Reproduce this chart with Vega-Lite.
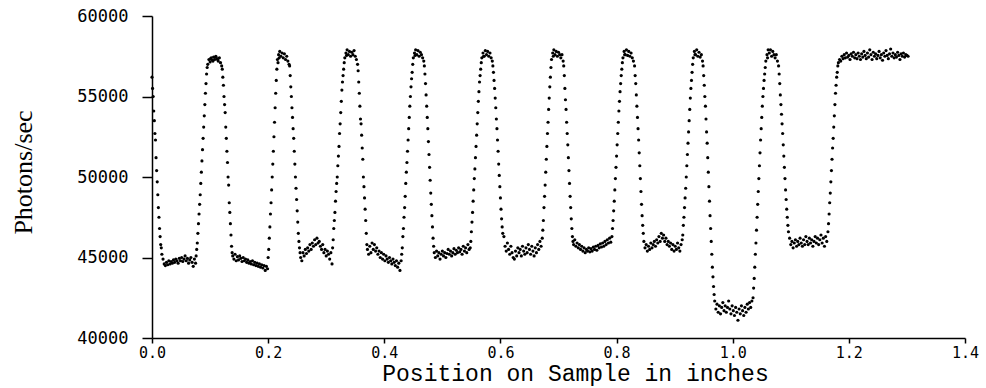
{
"$schema":"https://vega.github.io/schema/vega-lite/v6.json",
"autosize":"none","width":813,"height":322,
"padding":{"left":152,"top":16,"right":21,"bottom":50},
"background":"white",
"config":{"view":{"stroke":null}},
"data":{"values":[
{"x":0.000,"y":56200},{"x":0.001,"y":55500},{"x":0.002,"y":55000},{"x":0.003,"y":54100},{"x":0.004,"y":53500},{"x":0.005,"y":52700},{"x":0.006,"y":52300},{"x":0.007,"y":51200},{"x":0.008,"y":50400},{"x":0.009,"y":49700},{"x":0.010,"y":48900},{"x":0.011,"y":48100},{"x":0.012,"y":47500},{"x":0.013,"y":46800},{"x":0.014,"y":46300},{"x":0.015,"y":45800},{"x":0.016,"y":45600},{"x":0.017,"y":45200},
{"x":0.019,"y":44900},{"x":0.021,"y":44600},{"x":0.023,"y":44500},{"x":0.025,"y":44700},{"x":0.027,"y":44550},{"x":0.029,"y":44800},{"x":0.031,"y":44600},{"x":0.033,"y":44750},{"x":0.035,"y":44650},{"x":0.037,"y":44850},{"x":0.039,"y":44700},{"x":0.041,"y":44900},{"x":0.043,"y":44800},{"x":0.045,"y":44650},{"x":0.047,"y":44950},{"x":0.049,"y":44800},{"x":0.051,"y":45000},{"x":0.053,"y":44750},{"x":0.055,"y":44900},{"x":0.057,"y":45100},{"x":0.059,"y":44800},{"x":0.061,"y":44950},{"x":0.063,"y":44650},{"x":0.065,"y":44850},{"x":0.067,"y":45000},{"x":0.069,"y":44700},{"x":0.071,"y":44450},{"x":0.073,"y":44900},{"x":0.075,"y":44650},
{"x":0.076,"y":45100},{"x":0.077,"y":45500},{"x":0.078,"y":45900},{"x":0.079,"y":46500},{"x":0.080,"y":47100},{"x":0.081,"y":47700},{"x":0.082,"y":48300},{"x":0.083,"y":48900},{"x":0.084,"y":49600},{"x":0.085,"y":50300},{"x":0.086,"y":51000},{"x":0.087,"y":51700},{"x":0.088,"y":52400},{"x":0.089,"y":53100},{"x":0.090,"y":53800},{"x":0.091,"y":54500},{"x":0.092,"y":55200},{"x":0.093,"y":55800},{"x":0.094,"y":56400},{"x":0.095,"y":56800},
{"x":0.096,"y":57000},{"x":0.098,"y":57300},{"x":0.100,"y":57150},{"x":0.101,"y":57350},{"x":0.102,"y":57400},{"x":0.104,"y":57250},{"x":0.105,"y":57200},{"x":0.106,"y":57450},{"x":0.108,"y":57300},{"x":0.109,"y":57450},{"x":0.110,"y":57500},{"x":0.112,"y":57350},{"x":0.113,"y":57300},{"x":0.114,"y":57200},{"x":0.116,"y":57400},{"x":0.118,"y":57100},{"x":0.120,"y":56900},
{"x":0.121,"y":56700},{"x":0.122,"y":56200},{"x":0.123,"y":55700},{"x":0.124,"y":55000},{"x":0.125,"y":54500},{"x":0.126,"y":54000},{"x":0.127,"y":53100},{"x":0.128,"y":52400},{"x":0.129,"y":51600},{"x":0.130,"y":50900},{"x":0.131,"y":50000},{"x":0.132,"y":49500},{"x":0.133,"y":48400},{"x":0.134,"y":47800},{"x":0.135,"y":47100},{"x":0.136,"y":46400},{"x":0.137,"y":45700},{"x":0.138,"y":45300},
{"x":0.139,"y":45100},{"x":0.141,"y":44900},{"x":0.143,"y":45200},{"x":0.145,"y":44800},{"x":0.147,"y":45050},{"x":0.149,"y":44850},{"x":0.151,"y":45100},{"x":0.153,"y":44950},{"x":0.155,"y":44750},{"x":0.157,"y":45000},{"x":0.159,"y":44800},{"x":0.161,"y":44900},{"x":0.163,"y":44700},{"x":0.165,"y":44850},{"x":0.167,"y":44650},{"x":0.169,"y":44750},{"x":0.171,"y":44600},{"x":0.173,"y":44800},{"x":0.175,"y":44550},{"x":0.177,"y":44700},{"x":0.179,"y":44500},{"x":0.181,"y":44650},{"x":0.183,"y":44450},{"x":0.185,"y":44600},{"x":0.187,"y":44400},{"x":0.189,"y":44550},{"x":0.191,"y":44350},{"x":0.193,"y":44500},{"x":0.195,"y":44200},{"x":0.197,"y":44450},{"x":0.199,"y":44300},
{"x":0.200,"y":45000},{"x":0.201,"y":45500},{"x":0.202,"y":46200},{"x":0.203,"y":46900},{"x":0.204,"y":47700},{"x":0.205,"y":48400},{"x":0.206,"y":49200},{"x":0.207,"y":50000},{"x":0.208,"y":50800},{"x":0.209,"y":51600},{"x":0.210,"y":52500},{"x":0.211,"y":53400},{"x":0.212,"y":54300},{"x":0.213,"y":55200},{"x":0.214,"y":56000},{"x":0.215,"y":56700},
{"x":0.216,"y":57300},{"x":0.217,"y":57100},{"x":0.218,"y":57600},{"x":0.219,"y":57400},{"x":0.220,"y":57800},{"x":0.222,"y":57500},{"x":0.224,"y":57700},{"x":0.226,"y":57400},{"x":0.228,"y":57650},{"x":0.230,"y":57300},{"x":0.232,"y":57500},{"x":0.234,"y":57200},{"x":0.236,"y":57000},
{"x":0.237,"y":56900},{"x":0.238,"y":56300},{"x":0.239,"y":55600},{"x":0.240,"y":55000},{"x":0.241,"y":54300},{"x":0.242,"y":53700},{"x":0.243,"y":53000},{"x":0.244,"y":52400},{"x":0.245,"y":51600},{"x":0.246,"y":50800},{"x":0.247,"y":50000},{"x":0.248,"y":49300},{"x":0.249,"y":48600},{"x":0.250,"y":47900},{"x":0.251,"y":47200},{"x":0.252,"y":46500},{"x":0.253,"y":46000},{"x":0.254,"y":45600},{"x":0.255,"y":45300},
{"x":0.256,"y":45000},{"x":0.258,"y":44800},{"x":0.260,"y":45300},{"x":0.262,"y":45100},{"x":0.264,"y":45500},{"x":0.266,"y":45250},{"x":0.268,"y":45600},{"x":0.270,"y":45400},{"x":0.272,"y":45800},{"x":0.274,"y":45500},{"x":0.276,"y":45900},{"x":0.278,"y":45700},{"x":0.280,"y":46100},{"x":0.282,"y":45800},{"x":0.284,"y":46200},{"x":0.286,"y":45900},{"x":0.288,"y":46000},{"x":0.290,"y":45700},{"x":0.292,"y":45500},{"x":0.294,"y":45800},{"x":0.296,"y":45300},{"x":0.298,"y":45500},{"x":0.300,"y":45100},{"x":0.302,"y":45400},{"x":0.304,"y":45200},{"x":0.306,"y":44900},{"x":0.308,"y":45300},{"x":0.310,"y":44600},
{"x":0.311,"y":45600},{"x":0.312,"y":46100},{"x":0.313,"y":46800},{"x":0.314,"y":47300},{"x":0.315,"y":47800},{"x":0.316,"y":48500},{"x":0.317,"y":49100},{"x":0.318,"y":49600},{"x":0.319,"y":50000},{"x":0.320,"y":50700},{"x":0.321,"y":51300},{"x":0.322,"y":51900},{"x":0.323,"y":52700},{"x":0.324,"y":53300},{"x":0.325,"y":54000},{"x":0.326,"y":54700},{"x":0.327,"y":55400},{"x":0.328,"y":55900},{"x":0.329,"y":56300},{"x":0.330,"y":56700},{"x":0.331,"y":57100},
{"x":0.332,"y":57400},{"x":0.334,"y":57700},{"x":0.335,"y":57550},{"x":0.336,"y":57900},{"x":0.338,"y":57600},{"x":0.340,"y":57800},{"x":0.342,"y":57500},{"x":0.344,"y":57750},{"x":0.346,"y":57600},{"x":0.348,"y":57850},{"x":0.350,"y":57500},{"x":0.352,"y":57300},{"x":0.354,"y":57000},
{"x":0.355,"y":56600},{"x":0.356,"y":55900},{"x":0.357,"y":55200},{"x":0.358,"y":54400},{"x":0.359,"y":53600},{"x":0.360,"y":53300},{"x":0.361,"y":52600},{"x":0.362,"y":51800},{"x":0.363,"y":51100},{"x":0.364,"y":50000},{"x":0.365,"y":49400},{"x":0.366,"y":48700},{"x":0.367,"y":48000},{"x":0.368,"y":47300},{"x":0.369,"y":46500},{"x":0.370,"y":45800},
{"x":0.371,"y":45500},{"x":0.373,"y":45200},{"x":0.375,"y":45700},{"x":0.377,"y":45300},{"x":0.379,"y":45900},{"x":0.381,"y":45500},{"x":0.383,"y":45800},{"x":0.385,"y":45400},{"x":0.387,"y":45600},{"x":0.389,"y":45200},{"x":0.391,"y":45400},{"x":0.393,"y":45000},{"x":0.395,"y":45300},{"x":0.397,"y":44900},{"x":0.399,"y":45200},{"x":0.401,"y":44800},{"x":0.403,"y":45100},{"x":0.405,"y":44900},{"x":0.407,"y":44700},{"x":0.409,"y":45000},{"x":0.411,"y":44800},{"x":0.413,"y":44600},{"x":0.415,"y":44900},{"x":0.417,"y":44700},{"x":0.419,"y":44500},{"x":0.421,"y":44800},{"x":0.423,"y":44400},{"x":0.425,"y":44650},{"x":0.427,"y":44200},{"x":0.429,"y":44800},
{"x":0.430,"y":45200},{"x":0.431,"y":45600},{"x":0.432,"y":46300},{"x":0.433,"y":46800},{"x":0.434,"y":47500},{"x":0.435,"y":48100},{"x":0.436,"y":48800},{"x":0.437,"y":49600},{"x":0.438,"y":50300},{"x":0.439,"y":50900},{"x":0.440,"y":51600},{"x":0.441,"y":52300},{"x":0.442,"y":53000},{"x":0.443,"y":53700},{"x":0.444,"y":54400},{"x":0.445,"y":55000},{"x":0.446,"y":55600},{"x":0.447,"y":56100},{"x":0.448,"y":56500},{"x":0.449,"y":57000},
{"x":0.450,"y":57400},{"x":0.452,"y":57700},{"x":0.453,"y":57550},{"x":0.454,"y":57900},{"x":0.456,"y":57600},{"x":0.458,"y":57850},{"x":0.460,"y":57500},{"x":0.462,"y":57750},{"x":0.464,"y":57600},{"x":0.466,"y":57400},{"x":0.468,"y":57200},
{"x":0.469,"y":56900},{"x":0.470,"y":56400},{"x":0.471,"y":55800},{"x":0.472,"y":55100},{"x":0.473,"y":54400},{"x":0.474,"y":53700},{"x":0.475,"y":53000},{"x":0.476,"y":52200},{"x":0.477,"y":51400},{"x":0.478,"y":50600},{"x":0.479,"y":49800},{"x":0.480,"y":49000},{"x":0.481,"y":48300},{"x":0.482,"y":47600},{"x":0.483,"y":46900},{"x":0.484,"y":46200},{"x":0.485,"y":45700},
{"x":0.486,"y":45300},{"x":0.488,"y":45000},{"x":0.490,"y":45400},{"x":0.492,"y":45100},{"x":0.494,"y":45300},{"x":0.496,"y":44900},{"x":0.498,"y":45200},{"x":0.500,"y":45400},{"x":0.502,"y":45100},{"x":0.504,"y":45300},{"x":0.506,"y":45000},{"x":0.508,"y":45250},{"x":0.510,"y":45500},{"x":0.512,"y":45200},{"x":0.514,"y":45400},{"x":0.516,"y":45100},{"x":0.518,"y":45300},{"x":0.520,"y":45550},{"x":0.522,"y":45200},{"x":0.524,"y":45450},{"x":0.526,"y":45300},{"x":0.528,"y":45600},{"x":0.530,"y":45350},{"x":0.532,"y":45500},{"x":0.534,"y":45200},{"x":0.536,"y":45700},{"x":0.538,"y":45400},{"x":0.540,"y":45600},{"x":0.542,"y":45300},{"x":0.544,"y":45800},{"x":0.546,"y":45500},
{"x":0.548,"y":45600},{"x":0.549,"y":46000},{"x":0.550,"y":46600},{"x":0.551,"y":47200},{"x":0.552,"y":47800},{"x":0.553,"y":48500},{"x":0.554,"y":49200},{"x":0.555,"y":49900},{"x":0.556,"y":50500},{"x":0.557,"y":51200},{"x":0.558,"y":51900},{"x":0.559,"y":52600},{"x":0.560,"y":53300},{"x":0.561,"y":54000},{"x":0.562,"y":54700},{"x":0.563,"y":55300},{"x":0.564,"y":55900},{"x":0.565,"y":56300},{"x":0.566,"y":56700},{"x":0.567,"y":57100},
{"x":0.568,"y":57400},{"x":0.570,"y":57700},{"x":0.571,"y":57500},{"x":0.572,"y":57500},{"x":0.574,"y":57850},{"x":0.576,"y":57600},{"x":0.578,"y":57800},{"x":0.580,"y":57500},{"x":0.582,"y":57700},{"x":0.584,"y":57400},{"x":0.586,"y":57200},
{"x":0.587,"y":56900},{"x":0.588,"y":56500},{"x":0.589,"y":56000},{"x":0.590,"y":55500},{"x":0.591,"y":54900},{"x":0.592,"y":54300},{"x":0.593,"y":53600},{"x":0.594,"y":53000},{"x":0.595,"y":52300},{"x":0.596,"y":51600},{"x":0.597,"y":50800},{"x":0.598,"y":50100},{"x":0.599,"y":49400},{"x":0.600,"y":48700},{"x":0.601,"y":48000},{"x":0.602,"y":47400},{"x":0.603,"y":46900},{"x":0.604,"y":46500},{"x":0.606,"y":46300},
{"x":0.608,"y":45700},{"x":0.610,"y":45400},{"x":0.612,"y":45900},{"x":0.614,"y":45500},{"x":0.616,"y":45200},{"x":0.618,"y":45700},{"x":0.620,"y":45300},{"x":0.622,"y":45000},{"x":0.624,"y":44900},{"x":0.626,"y":45400},{"x":0.628,"y":45100},{"x":0.630,"y":45600},{"x":0.632,"y":45300},{"x":0.634,"y":45500},{"x":0.636,"y":45100},{"x":0.638,"y":45700},{"x":0.640,"y":45400},{"x":0.642,"y":45200},{"x":0.644,"y":45600},{"x":0.646,"y":45300},{"x":0.648,"y":45800},{"x":0.650,"y":45500},{"x":0.652,"y":45200},{"x":0.654,"y":45700},{"x":0.656,"y":45400},{"x":0.658,"y":45100},{"x":0.660,"y":45600},{"x":0.662,"y":45300},{"x":0.664,"y":45800},{"x":0.666,"y":45500},{"x":0.668,"y":46000},{"x":0.670,"y":45700},
{"x":0.672,"y":46200},{"x":0.673,"y":46700},{"x":0.674,"y":47300},{"x":0.675,"y":48100},{"x":0.676,"y":48800},{"x":0.677,"y":49500},{"x":0.678,"y":50300},{"x":0.679,"y":51100},{"x":0.680,"y":51900},{"x":0.681,"y":52700},{"x":0.682,"y":53400},{"x":0.683,"y":54200},{"x":0.684,"y":54900},{"x":0.685,"y":55600},{"x":0.686,"y":56200},{"x":0.687,"y":56800},
{"x":0.688,"y":57300},{"x":0.690,"y":57700},{"x":0.691,"y":57500},{"x":0.692,"y":57900},{"x":0.694,"y":57600},{"x":0.696,"y":57800},{"x":0.698,"y":57500},{"x":0.700,"y":57750},{"x":0.702,"y":57600},{"x":0.704,"y":57400},{"x":0.706,"y":57600},{"x":0.708,"y":57200},
{"x":0.709,"y":56900},{"x":0.710,"y":56300},{"x":0.711,"y":55500},{"x":0.712,"y":54800},{"x":0.713,"y":54200},{"x":0.714,"y":53400},{"x":0.715,"y":52700},{"x":0.716,"y":52000},{"x":0.717,"y":51200},{"x":0.718,"y":50400},{"x":0.719,"y":49600},{"x":0.720,"y":48800},{"x":0.721,"y":48100},{"x":0.722,"y":47400},{"x":0.723,"y":46800},{"x":0.724,"y":46300},{"x":0.725,"y":46000},
{"x":0.726,"y":45800},{"x":0.728,"y":46100},{"x":0.730,"y":45700},{"x":0.732,"y":45900},{"x":0.734,"y":45600},{"x":0.736,"y":45800},{"x":0.738,"y":45500},{"x":0.740,"y":45700},{"x":0.742,"y":45400},{"x":0.744,"y":45600},{"x":0.746,"y":45300},{"x":0.748,"y":45500},{"x":0.750,"y":45400},{"x":0.752,"y":45600},{"x":0.754,"y":45350},{"x":0.756,"y":45550},{"x":0.758,"y":45400},{"x":0.760,"y":45650},{"x":0.762,"y":45500},{"x":0.764,"y":45700},{"x":0.766,"y":45450},{"x":0.768,"y":45750},{"x":0.770,"y":45600},{"x":0.772,"y":45850},{"x":0.774,"y":45650},{"x":0.776,"y":45900},{"x":0.778,"y":45700},{"x":0.780,"y":46000},{"x":0.782,"y":45800},{"x":0.784,"y":46100},{"x":0.786,"y":45900},{"x":0.788,"y":46200},{"x":0.790,"y":45950},
{"x":0.792,"y":46300},{"x":0.793,"y":46800},{"x":0.794,"y":47300},{"x":0.795,"y":47900},{"x":0.796,"y":48500},{"x":0.797,"y":49200},{"x":0.798,"y":49900},{"x":0.799,"y":50600},{"x":0.800,"y":51300},{"x":0.801,"y":52000},{"x":0.802,"y":52700},{"x":0.803,"y":53400},{"x":0.804,"y":54100},{"x":0.805,"y":54700},{"x":0.806,"y":55300},{"x":0.807,"y":55800},{"x":0.808,"y":56300},{"x":0.809,"y":56700},{"x":0.810,"y":57100},
{"x":0.811,"y":57400},{"x":0.813,"y":57800},{"x":0.814,"y":57600},{"x":0.815,"y":57600},{"x":0.817,"y":57900},{"x":0.819,"y":57550},{"x":0.821,"y":57800},{"x":0.823,"y":57500},{"x":0.825,"y":57700},{"x":0.827,"y":57400},{"x":0.829,"y":57200},
{"x":0.831,"y":56900},{"x":0.832,"y":56300},{"x":0.833,"y":55800},{"x":0.834,"y":55100},{"x":0.835,"y":54400},{"x":0.836,"y":53700},{"x":0.837,"y":53000},{"x":0.838,"y":52300},{"x":0.839,"y":51500},{"x":0.840,"y":50700},{"x":0.841,"y":49900},{"x":0.842,"y":49100},{"x":0.843,"y":48300},{"x":0.844,"y":47600},{"x":0.845,"y":47000},{"x":0.846,"y":46500},
{"x":0.847,"y":46000},{"x":0.849,"y":45600},{"x":0.851,"y":45800},{"x":0.853,"y":45400},{"x":0.855,"y":45700},{"x":0.857,"y":45500},{"x":0.859,"y":45900},{"x":0.861,"y":45600},{"x":0.863,"y":45800},{"x":0.865,"y":46000},{"x":0.867,"y":45700},{"x":0.869,"y":46100},{"x":0.871,"y":45900},{"x":0.873,"y":46300},{"x":0.875,"y":46000},{"x":0.877,"y":46500},{"x":0.879,"y":46200},{"x":0.881,"y":46400},{"x":0.883,"y":46000},{"x":0.885,"y":46200},{"x":0.887,"y":45800},{"x":0.889,"y":46000},{"x":0.891,"y":45700},{"x":0.893,"y":45900},{"x":0.895,"y":45500},{"x":0.897,"y":45800},{"x":0.899,"y":45400},{"x":0.901,"y":45700},{"x":0.903,"y":45500},{"x":0.905,"y":45900},{"x":0.907,"y":45600},{"x":0.909,"y":45400},{"x":0.911,"y":45800},{"x":0.913,"y":46100},
{"x":0.914,"y":46400},{"x":0.915,"y":47000},{"x":0.916,"y":47500},{"x":0.917,"y":48100},{"x":0.918,"y":48700},{"x":0.919,"y":49300},{"x":0.920,"y":50000},{"x":0.921,"y":50700},{"x":0.922,"y":51400},{"x":0.923,"y":52100},{"x":0.924,"y":52800},{"x":0.925,"y":53500},{"x":0.926,"y":54200},{"x":0.927,"y":54900},{"x":0.928,"y":55500},{"x":0.929,"y":56000},{"x":0.930,"y":56500},{"x":0.931,"y":57000},
{"x":0.932,"y":57400},{"x":0.934,"y":57800},{"x":0.935,"y":57600},{"x":0.936,"y":57600},{"x":0.938,"y":57900},{"x":0.940,"y":57500},{"x":0.942,"y":57750},{"x":0.944,"y":57450},{"x":0.946,"y":57600},{"x":0.948,"y":57200},
{"x":0.949,"y":56900},{"x":0.950,"y":56300},{"x":0.951,"y":55700},{"x":0.952,"y":55000},{"x":0.953,"y":54400},{"x":0.954,"y":53600},{"x":0.955,"y":52800},{"x":0.956,"y":52100},{"x":0.957,"y":51200},{"x":0.958,"y":50300},{"x":0.959,"y":49400},{"x":0.960,"y":48500},{"x":0.961,"y":47600},{"x":0.962,"y":46800},{"x":0.963,"y":46000},{"x":0.964,"y":45200},{"x":0.965,"y":44400},{"x":0.966,"y":43800},{"x":0.967,"y":43200},{"x":0.968,"y":42700},
{"x":0.969,"y":42300},{"x":0.971,"y":41800},{"x":0.973,"y":42100},{"x":0.975,"y":41600},{"x":0.977,"y":42000},{"x":0.979,"y":41500},{"x":0.981,"y":41900},{"x":0.983,"y":42200},{"x":0.985,"y":41700},{"x":0.987,"y":42000},{"x":0.989,"y":41600},{"x":0.991,"y":41900},{"x":0.993,"y":42300},{"x":0.995,"y":41800},{"x":0.997,"y":41500},{"x":0.999,"y":42000},{"x":1.001,"y":41700},{"x":1.003,"y":41400},{"x":1.005,"y":41900},{"x":1.007,"y":41600},{"x":1.009,"y":41100},{"x":1.011,"y":41800},{"x":1.013,"y":41500},{"x":1.015,"y":42000},{"x":1.017,"y":41700},{"x":1.019,"y":41400},{"x":1.021,"y":41900},{"x":1.023,"y":41600},{"x":1.025,"y":42100},{"x":1.027,"y":41800},{"x":1.029,"y":42200},{"x":1.031,"y":41900},{"x":1.033,"y":42300},
{"x":1.035,"y":42500},{"x":1.036,"y":43100},{"x":1.037,"y":43700},{"x":1.038,"y":44400},{"x":1.039,"y":45200},{"x":1.040,"y":45900},{"x":1.041,"y":46700},{"x":1.042,"y":47500},{"x":1.043,"y":48300},{"x":1.044,"y":49100},{"x":1.045,"y":49900},{"x":1.046,"y":50700},{"x":1.047,"y":51500},{"x":1.048,"y":52300},{"x":1.049,"y":53000},{"x":1.050,"y":53700},{"x":1.051,"y":54400},{"x":1.052,"y":55000},{"x":1.053,"y":55500},{"x":1.054,"y":56000},{"x":1.055,"y":56400},{"x":1.056,"y":56800},
{"x":1.057,"y":57200},{"x":1.059,"y":57600},{"x":1.060,"y":57400},{"x":1.061,"y":57900},{"x":1.063,"y":57700},{"x":1.065,"y":57900},{"x":1.067,"y":57500},{"x":1.069,"y":57800},{"x":1.071,"y":57600},{"x":1.073,"y":57400},{"x":1.075,"y":57600},{"x":1.077,"y":57200},
{"x":1.079,"y":56900},{"x":1.080,"y":56400},{"x":1.081,"y":55800},{"x":1.082,"y":55100},{"x":1.083,"y":54500},{"x":1.084,"y":53900},{"x":1.085,"y":53300},{"x":1.086,"y":52700},{"x":1.087,"y":52000},{"x":1.088,"y":51300},{"x":1.089,"y":50600},{"x":1.090,"y":49900},{"x":1.091,"y":49200},{"x":1.092,"y":48600},{"x":1.093,"y":48000},{"x":1.094,"y":47500},{"x":1.095,"y":47000},{"x":1.096,"y":46600},
{"x":1.098,"y":46200},{"x":1.100,"y":45800},{"x":1.102,"y":46000},{"x":1.104,"y":45600},{"x":1.106,"y":45900},{"x":1.108,"y":46100},{"x":1.110,"y":45700},{"x":1.112,"y":46000},{"x":1.114,"y":45800},{"x":1.116,"y":46200},{"x":1.118,"y":45900},{"x":1.120,"y":45700},{"x":1.122,"y":46100},{"x":1.124,"y":45800},{"x":1.126,"y":46300},{"x":1.128,"y":46000},{"x":1.130,"y":45800},{"x":1.132,"y":46200},{"x":1.134,"y":45900},{"x":1.136,"y":46100},{"x":1.138,"y":45700},{"x":1.140,"y":46000},{"x":1.142,"y":46300},{"x":1.144,"y":45900},{"x":1.146,"y":46200},{"x":1.148,"y":45800},{"x":1.150,"y":46100},{"x":1.152,"y":46400},{"x":1.154,"y":45900},{"x":1.156,"y":46200},{"x":1.158,"y":45700},{"x":1.160,"y":46300},{"x":1.162,"y":46000},
{"x":1.164,"y":46600},{"x":1.165,"y":47100},{"x":1.166,"y":47700},{"x":1.167,"y":48400},{"x":1.168,"y":49000},{"x":1.169,"y":49700},{"x":1.170,"y":50400},{"x":1.171,"y":51100},{"x":1.172,"y":51800},{"x":1.173,"y":52400},{"x":1.174,"y":53100},{"x":1.175,"y":53800},{"x":1.176,"y":54500},{"x":1.177,"y":55200},{"x":1.178,"y":55700},{"x":1.179,"y":56200},{"x":1.180,"y":56500},{"x":1.181,"y":56900},
{"x":1.182,"y":57100},{"x":1.184,"y":57300},{"x":1.186,"y":57200},{"x":1.188,"y":57500},{"x":1.190,"y":57350},{"x":1.192,"y":57600},{"x":1.194,"y":57400},{"x":1.196,"y":57700},{"x":1.198,"y":57450},{"x":1.200,"y":57550},{"x":1.202,"y":57300},{"x":1.204,"y":57650},{"x":1.206,"y":57500},{"x":1.208,"y":57750},{"x":1.210,"y":57400},{"x":1.212,"y":57600},{"x":1.214,"y":57350},{"x":1.216,"y":57700},{"x":1.218,"y":57500},{"x":1.220,"y":57300},{"x":1.222,"y":57650},{"x":1.224,"y":57450},{"x":1.226,"y":57800},{"x":1.228,"y":57550},{"x":1.230,"y":57350},{"x":1.232,"y":57700},{"x":1.234,"y":57450},{"x":1.236,"y":57900},{"x":1.238,"y":57600},{"x":1.240,"y":57300},{"x":1.242,"y":57750},{"x":1.244,"y":57500},{"x":1.246,"y":57650},{"x":1.248,"y":57350},{"x":1.250,"y":57550},{"x":1.252,"y":57800},{"x":1.254,"y":57400},{"x":1.256,"y":57600},{"x":1.258,"y":57250},{"x":1.260,"y":57700},{"x":1.262,"y":57500},{"x":1.264,"y":57850},{"x":1.266,"y":57550},{"x":1.268,"y":57350},{"x":1.270,"y":57650},{"x":1.272,"y":57950},{"x":1.274,"y":57500},{"x":1.276,"y":57700},{"x":1.278,"y":57400},{"x":1.280,"y":57600},{"x":1.282,"y":57450},{"x":1.284,"y":57750},{"x":1.286,"y":57550},{"x":1.288,"y":57300},{"x":1.290,"y":57650},{"x":1.292,"y":57500},{"x":1.294,"y":57700},{"x":1.296,"y":57450},{"x":1.298,"y":57600},{"x":1.300,"y":57550},{"x":1.302,"y":57500}
]},
"mark":{"type":"circle","size":10,"color":"black","opacity":1},
"encoding":{
"x":{"field":"x","type":"quantitative",
"scale":{"domain":[0,1.4],"nice":false,"zero":false},
"axis":{"values":[0,0.2,0.4,0.6,0.8,1.0,1.2,1.4],"format":".1f","grid":false,
"domainColor":"black","domainWidth":1.5,"tickColor":"black","tickWidth":1.5,"tickSize":5,
"labelFont":"DejaVu Sans Mono","labelFontSize":15,"labelColor":"black","labelPadding":2,"labelFlush":false,
"title":"Position on Sample in inches","titleFont":"Liberation Mono","titleFontSize":23,"titleFontWeight":"normal","titleColor":"black",
"titleX":423,"titleY":42,"titleBaseline":"alphabetic","titleAlign":"center"}},
"y":{"field":"y","type":"quantitative",
"scale":{"domain":[40000,60000],"nice":false,"zero":false},
"axis":{"values":[40000,45000,50000,55000,60000],"format":"d","grid":false,
"domainColor":"black","domainWidth":1.5,"tickColor":"black","tickWidth":1.5,"tickSize":10,
"labelFont":"DejaVu Sans Mono","labelFontSize":17,"labelColor":"black","labelPadding":14,"labelFlush":false,
"title":"Photons/sec","titleFont":"Liberation Serif","titleFontSize":26,"titleFontWeight":"normal","titleColor":"black",
"titleX":-121,"titleY":156,"titleAngle":-90,"titleBaseline":"alphabetic","titleAlign":"center"}}
}
}
